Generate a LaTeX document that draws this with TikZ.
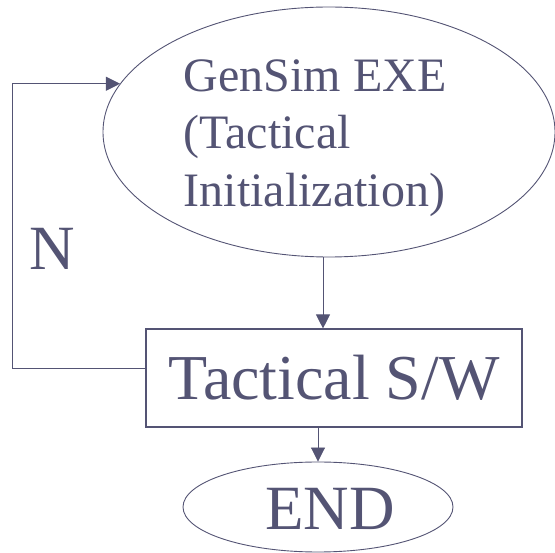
\documentclass[tikz,border=0pt]{standalone}
\usepackage{fontspec}
\setmainfont{Liberation Serif}
\usetikzlibrary{arrows.meta,shapes.geometric}
\definecolor{slate}{RGB}{84,84,116}

\begin{document}
\begin{tikzpicture}[x=1pt, y=-1pt, color=slate, line width=0.9pt,
  arr/.style={-{Triangle[length=14pt,width=14pt]}},
  oval/.style={draw, ellipse, inner sep=0pt},
  big/.style={font=\fontsize{63}{75}\selectfont}]
\useasboundingbox (0,0) rectangle (555,553);
% the start ellipse
\node[oval, minimum width=452, minimum height=250] (GenSim) at (329,132) {};
\node[align=left, inner sep=0pt, font=\fontsize{48}{57.5}\selectfont] (GenSimText) at (315,138) {GenSim EXE\\(Tactical\\Initialization)};
% the S/W box
\node[draw, line width=1.1pt, minimum width=376, minimum height=98, inner sep=0pt, font=\fontsize{64}{76}\selectfont] (Tactical) at (334,378) {Tactical S/W};
% the end ellipse
\node[oval, minimum width=270, minimum height=90] (End) at (318,507) {};
\node[big, inner sep=0pt] (EndText) at (330,509) {END};

\draw[arr] ([xshift=-6pt]GenSim.south) -- ([xshift=-6pt]GenSim.south |- Tactical.north);
\draw[arr] (Tactical.south -| End.north) -- (End.north);

% loop back
\coordinate (Loop) at (12,368);
\draw[arr] ([yshift=10pt]Tactical.west) -- (Loop) |- (GenSim.167);
\node[big, inner sep=0pt] (No) at (52,249) {N};
\end{tikzpicture}
\end{document}
